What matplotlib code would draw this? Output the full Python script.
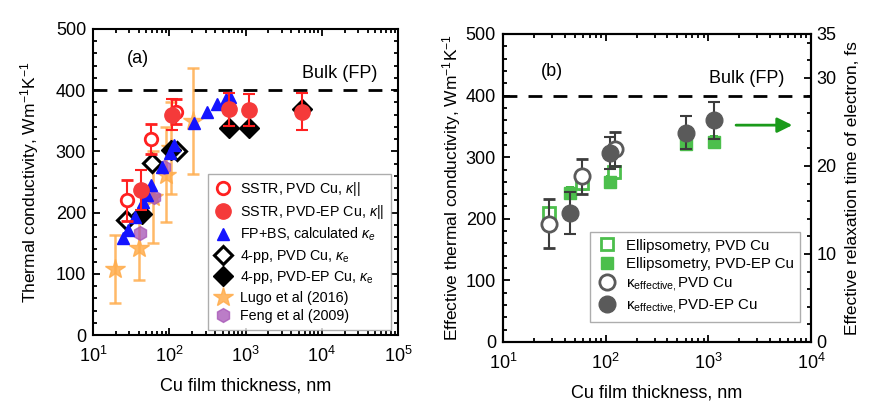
import numpy as np
import matplotlib
matplotlib.use('Agg')
from matplotlib import pyplot as plt
from matplotlib.ticker import MultipleLocator, LogLocator, NullFormatter
from matplotlib.container import ErrorbarContainer

plt.rcParams['font.family'] = ['Liberation Sans', 'DejaVu Sans']
plt.rcParams['mathtext.fontset'] = 'custom'
plt.rcParams['mathtext.rm'] = 'Liberation Sans'
plt.rcParams['mathtext.it'] = 'Liberation Sans:italic'
plt.rcParams['mathtext.bf'] = 'Liberation Sans:bold'

# ---- panel (a) data ----
ssterPvdX = [28, 58, 123]
ssterPvdY = [220, 320, 365]
ssterPvdErr = [33, 24, 20]

ssterEpX = [43, 110, 600, 1100, 5500]
ssterEpY = [237, 360, 369, 368, 365]
ssterEpErr = [33, 25, 27, 26, 30]

fpbsX = [25, 29, 36, 45, 51, 58, 80, 102, 114, 213, 314, 426, 560, 630]
fpbsY = [159, 172, 193, 218, 229, 245, 275, 297, 310, 346, 365, 377, 385, 389]

fourPvdX = [27, 60, 128]
fourPvdY = [188, 281, 300]

fourEpX = [44, 105, 600, 1100, 5500]
fourEpY = [198, 302, 338, 338, 369]

lugoX = [19.5, 40, 62, 90, 106, 205]
lugoY = [108, 142, 225, 262, 305, 350]
lugoErr = [55, 52, 75, 78, 75, 87]

fengX = [41, 63, 84]
fengY = [167, 226, 274]

# ---- panel (b) data ----
ellPvdX = [28, 59, 120]
ellPvdY = [209, 258, 276]
ellPvdErr = [9, 9, 9]

ellEpX = [44.5, 111, 611, 1137]
ellEpY = [242, 260, 321, 325]
ellEpErr = [9, 9, 9, 9]

effPvdX = [28, 59, 124]
effPvdY = [192, 269, 313]
effPvdErr = [40, 28, 28]

effEpX = [44.5, 109, 611, 1137]
effEpY = [210, 307, 340, 360]
effEpErr = [34, 26, 27, 30]

bulkValue = 400

fig = plt.figure(figsize=(8.71, 4.05), dpi=100)
axA = fig.add_axes([0.1068, 0.1728, 0.3502, 0.7556])
axB = fig.add_axes([0.5775, 0.1556, 0.3536, 0.7605])

red = '#ff2020'
redFill = '#f53a3a'
blue = '#1414ff'
orange = '#ffad4d'
purple = '#a552b5'
green = '#22aa22'
greenFill = '#4cbf4c'
grey = '#3c3c3c'
greyFill = '#5a5a5a'


#keep only the marker of an errorbar for the legend
def markerOnly(handles):
    out = []
    for h in handles:
        if isinstance(h, ErrorbarContainer):
            out.append(h[0])
        else:
            out.append(h)
    return out


# ---- panel (a) ----
axA.axhline(bulkValue, color='black', linestyle=(0, (5, 4)), linewidth=2, zorder=1)

axA.errorbar(lugoX, lugoY, yerr=lugoErr, fmt='*', color=orange, ms=15, mec=orange,
             elinewidth=1.8, capsize=4, capthick=1.8, alpha=0.85, zorder=2,
             label='Lugo et al (2016)')
axA.plot(fengX, fengY, 'h', color=purple, ms=10, alpha=0.75, zorder=3,
         label='Feng et al (2009)')
axA.plot(fourPvdX, fourPvdY, 'D', mfc='white', mec='black', mew=2.2, ms=9, zorder=4,
         label=r'4-pp, PVD Cu, $\kappa_\mathrm{e}$')
axA.plot(fourEpX, fourEpY, 'D', color='black', ms=10, zorder=4,
         label=r'4-pp, PVD-EP Cu, $\kappa_\mathrm{e}$')
axA.plot(fpbsX, fpbsY, '^', color=blue, ms=9, zorder=5,
         label=r'FP+BS, calculated $\kappa_e$')
axA.errorbar(ssterPvdX, ssterPvdY, yerr=ssterPvdErr, fmt='o', mfc='white', mec=red,
             mew=2, ms=9, ecolor=red, elinewidth=1.5, capsize=4, capthick=1.5, zorder=6,
             label=r'SSTR, PVD Cu, $\kappa$||')
axA.errorbar(ssterEpX, ssterEpY, yerr=ssterEpErr, fmt='o', color=redFill, ms=11,
             ecolor=red, elinewidth=1.5, capsize=4, capthick=1.5, zorder=6,
             label=r'SSTR, PVD-EP Cu, $\kappa$||')

axA.text(0.685, 0.856, 'Bulk (FP)', transform=axA.transAxes, fontsize=13, va='center')
axA.text(0.112, 0.902, '(a)', transform=axA.transAxes, fontsize=13, va='center')

handles, labels = axA.get_legend_handles_labels()
wanted = [r'SSTR, PVD Cu, $\kappa$||', r'SSTR, PVD-EP Cu, $\kappa$||',
          r'FP+BS, calculated $\kappa_e$', r'4-pp, PVD Cu, $\kappa_\mathrm{e}$',
          r'4-pp, PVD-EP Cu, $\kappa_\mathrm{e}$', 'Lugo et al (2016)', 'Feng et al (2009)']
order = [labels.index(l) for l in wanted]
legA = axA.legend(markerOnly([handles[i] for i in order]), wanted,
                  loc='lower right', bbox_to_anchor=(0.985, 0.008), fontsize=10.3,
                  frameon=True, fancybox=False, edgecolor='#999999', handletextpad=0.5,
                  labelspacing=0.32, borderpad=0.45, handlelength=1.3, borderaxespad=0.2)
legA.get_frame().set_linewidth(1)

axA.set_xscale('log')
axA.set_xlim(10, 1e5)
axA.set_ylim(0, 500)
axA.set_xlabel('Cu film thickness, nm', fontsize=13, labelpad=8)
axA.set_ylabel(r'Thermal conductivity, Wm$^{-1}$K$^{-1}$', fontsize=12.5, labelpad=11)

# ---- panel (b) ----
axB.axhline(bulkValue, color='black', linestyle=(0, (5, 4)), linewidth=2, zorder=1)

axB.errorbar(ellPvdX, ellPvdY, yerr=ellPvdErr, fmt='s', mfc='white', mec=greenFill,
             mew=2, ms=8, ecolor=green, elinewidth=1.2, capsize=3, capthick=1.2, zorder=3,
             label='Ellipsometry, PVD Cu')
axB.errorbar(ellEpX, ellEpY, yerr=ellEpErr, fmt='s', color=greenFill, ms=9,
             ecolor=green, elinewidth=1.2, capsize=3, capthick=1.2, zorder=3,
             label='Ellipsometry, PVD-EP Cu')
axB.errorbar(effPvdX, effPvdY, yerr=effPvdErr, fmt='o', mfc='white', mec=greyFill,
             mew=2, ms=11, ecolor=grey, elinewidth=1.5, capsize=4, capthick=1.5, zorder=4,
             label=r'κ$_{\mathrm{effective,}}$PVD Cu')
axB.errorbar(effEpX, effEpY, yerr=effEpErr, fmt='o', color=greyFill, ms=12,
             ecolor=grey, elinewidth=1.5, capsize=4, capthick=1.5, zorder=4,
             label=r'κ$_{\mathrm{effective,}}$PVD-EP Cu')

axB.annotate('', xy=(7000, 352), xytext=(1750, 352),
             arrowprops=dict(arrowstyle='-|>,head_length=0.9,head_width=0.45',
                             color='#1a9a1a', lw=2))

axB.text(0.668, 0.857, 'Bulk (FP)', transform=axB.transAxes, fontsize=13, va='center')
axB.text(0.122, 0.878, '(b)', transform=axB.transAxes, fontsize=13, va='center')

hB, lB = axB.get_legend_handles_labels()
legB = axB.legend(markerOnly(hB), lB, loc='lower right', bbox_to_anchor=(0.975, 0.055),
                  fontsize=10.8, frameon=True, fancybox=False, edgecolor='#999999',
                  handletextpad=0.6, labelspacing=0.28, borderpad=0.45, handlelength=1.3,
                  borderaxespad=0.2)
legB.get_frame().set_linewidth(1)

axB.set_xscale('log')
axB.set_xlim(10, 1e4)
axB.set_ylim(0, 500)
axB.set_xlabel('Cu film thickness, nm', fontsize=13, labelpad=8)
axB.set_ylabel(r'Effective thermal conductivity, Wm$^{-1}$K$^{-1}$', fontsize=12.5, labelpad=2)

axR = axB.twinx()
axR.set_ylim(0, 35)
axR.set_yticks([0, 10, 20, 30, 35])
axR.yaxis.set_minor_locator(MultipleLocator(2))
axR.set_ylabel('Effective relaxation time of electron, fs', fontsize=12.5, labelpad=6)
axR.tick_params(axis='y', which='both', direction='in', labelsize=13, width=1.3)
axR.tick_params(axis='y', which='major', length=5, pad=4)
axR.tick_params(axis='y', which='minor', length=3)

# ---- common tick styling ----
for ax in [axA, axB]:
    ax.yaxis.set_major_locator(MultipleLocator(100))
    ax.yaxis.set_minor_locator(MultipleLocator(20))
    ax.xaxis.set_major_locator(LogLocator(base=10))
    ax.xaxis.set_minor_locator(LogLocator(base=10, subs=np.arange(2, 10)))
    ax.xaxis.set_minor_formatter(NullFormatter())
    ax.tick_params(which='both', direction='in', top=True, labelsize=13, width=1.3)
    ax.tick_params(which='major', length=5)
    ax.tick_params(which='minor', length=3)
    ax.tick_params(axis='x', which='major', pad=8)
    ax.tick_params(axis='y', which='major', pad=5)
    for spine in ax.spines.values():
        spine.set_linewidth(1.5)
axA.tick_params(which='both', right=True)
axB.tick_params(which='both', right=False)
for spine in axR.spines.values():
    spine.set_linewidth(1.5)

fig.savefig('out.png', dpi=100)
